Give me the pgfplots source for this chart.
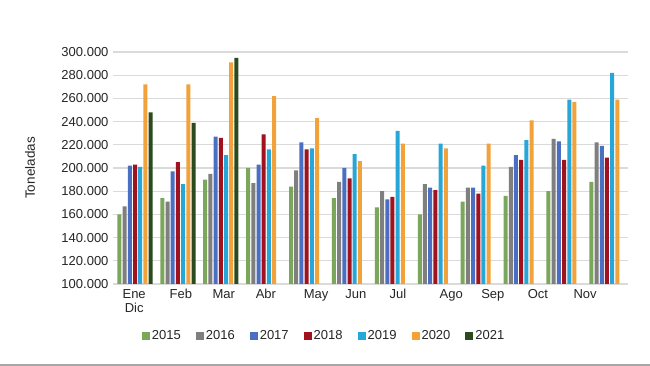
\documentclass[border=0pt]{standalone}
\usepackage{fontspec}
\setmainfont{Liberation Sans}
\usepackage{pgfplots}
\pgfplotsset{compat=1.18}
\definecolor{c15}{HTML}{7BA75C}
\definecolor{c16}{HTML}{7F7F7F}
\definecolor{c17}{HTML}{4A6FC2}
\definecolor{c18}{HTML}{A0121E}
\definecolor{c19}{HTML}{27A6D8}
\definecolor{c20}{HTML}{F2A23A}
\definecolor{c21}{HTML}{2B4A1E}
\definecolor{gridc}{HTML}{DADADA}
\definecolor{txt}{HTML}{262626}
\begin{document}
\begin{tikzpicture}
\path[use as bounding box] (0pt,0pt) rectangle (650pt,366pt);
\fill[white] (0pt,0pt) rectangle (650pt,366pt);
\draw[black!35, line width=1.5pt] (0pt,1pt) -- (650pt,1pt);
\begin{axis}[
  at={(113pt,82pt)}, anchor=south west,
  scale only axis, width=515pt, height=232pt,
  ybar=1.2pt, bar width=4pt,
  xmin=-0.513, xmax=11.49,
  ymin=100, ymax=300,
  ytick={100,120,...,300},
  yticklabel={\pgfmathprintnumber[fixed,precision=0,assume math mode=true]{\tick}.000},
  xtick={-0.02,1.07,2.07,3.05,4.22,5.15,6.13,7.37,8.34,9.39,10.49},
  xticklabels={{Ene\\Dic},Feb,Mar,Abr,May,Jun,Jul,Ago,Sep,Oct,Nov},
  xticklabel style={align=center, font=\fontsize{13}{14}\selectfont, text=txt, yshift=-2pt},
  yticklabel style={font=\fontsize{13}{14}\selectfont, text=txt, xshift=-1pt},
  major tick length=0pt,
  ymajorgrids, grid style={gridc, line width=1.3pt},
  axis line style={draw=none},
  ylabel={Toneladas},
  ylabel style={at={(rel axis cs:0,0.5)}, anchor=center, rotate=0, yshift=83pt, font=\fontsize{13.5}{15}\selectfont, text=txt},
  legend columns=7,
  legend style={at={(0.41,-0.224)}, anchor=center, draw=none, fill=none,
    font=\fontsize{13}{14}\selectfont, text=txt,
    /tikz/every even column/.append style={column sep=13pt}},
  legend image code/.code={\fill[#1] (0pt,-4pt) rectangle (8pt,4pt);},
]
\addplot[fill=c15, draw=none] coordinates {(0,160)(1,174)(2,190)(3,200)(4,184)(5,174)(6,166)(7,160)(8,171)(9,176)(10,180)(11,188)};
\addplot[fill=c16, draw=none] coordinates {(0,167)(1,171)(2,195)(3,187)(4,198)(5,188)(6,180)(7,186)(8,183)(9,201)(10,225)(11,222)};
\addplot[fill=c17, draw=none] coordinates {(0,202)(1,197)(2,227)(3,203)(4,222)(5,200)(6,173)(7,183)(8,183)(9,211)(10,223)(11,219)};
\addplot[fill=c18, draw=none] coordinates {(0,203)(1,205)(2,226)(3,229)(4,216)(5,191)(6,175)(7,181)(8,178)(9,207)(10,207)(11,209)};
\addplot[fill=c19, draw=none] coordinates {(0,201)(1,186)(2,211)(3,216)(4,217)(5,212)(6,232)(7,221)(8,202)(9,224)(10,259)(11,282)};
\addplot[fill=c20, draw=none] coordinates {(0,272)(1,272)(2,291)(3,262)(4,243)(5,206)(6,221)(7,217)(8,221)(9,241)(10,257)(11,259)};
\addplot[fill=c21, draw=none] coordinates {(0,248)(1,239)(2,295)};
\legend{2015,2016,2017,2018,2019,2020,2021}
\end{axis}
\end{tikzpicture}
\end{document}
